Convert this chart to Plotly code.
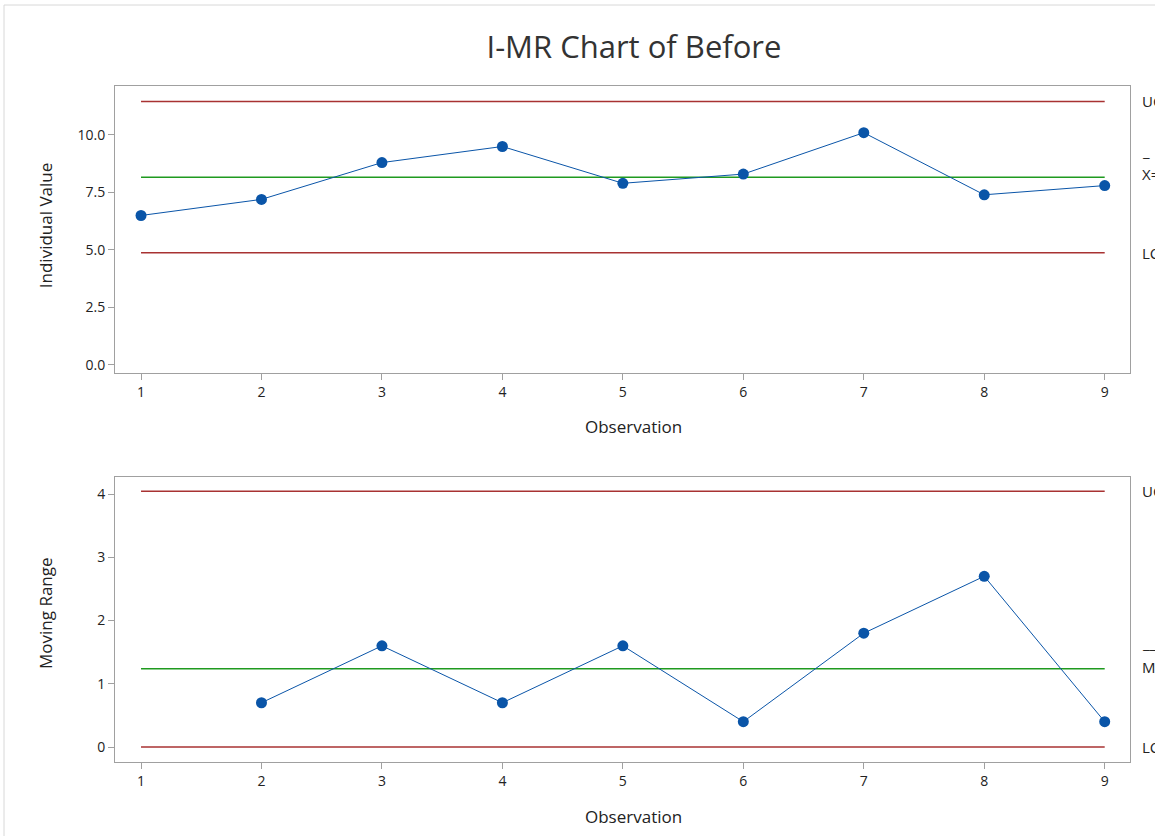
import plotly.graph_objects as go

obs = [1, 2, 3, 4, 5, 6, 7, 8, 9]
values = [6.5, 7.2, 8.8, 9.5, 7.9, 8.3, 10.1, 7.4, 7.8]
mr_obs = [2, 3, 4, 5, 6, 7, 8, 9]
mr_values = [0.7, 1.6, 0.7, 1.6, 0.4, 1.8, 2.7, 0.4]

xbar = sum(values) / len(values)
mrbar = sum(mr_values) / len(mr_values)
ucl_i = xbar + 2.66 * mrbar
lcl_i = xbar - 2.66 * mrbar
ucl_mr = 3.267 * mrbar
lcl_mr = 0.0

RED = "#a83232"
GREEN = "#1f9a1f"
BLUE = "#0a55a8"
FONT = "Open Sans"
TXT = "#222"

fig = go.Figure()

def hline(y, color, xa, ya):
    fig.add_trace(go.Scatter(x=[1, 9], y=[y, y], mode="lines",
                             line=dict(color=color, width=1.5),
                             xaxis=xa, yaxis=ya, hoverinfo="skip", showlegend=False))

hline(ucl_i, RED, "x", "y")
hline(xbar, GREEN, "x", "y")
hline(lcl_i, RED, "x", "y")
fig.add_trace(go.Scatter(x=obs, y=values, mode="lines+markers",
                         line=dict(color=BLUE, width=1),
                         marker=dict(color=BLUE, size=11),
                         xaxis="x", yaxis="y", showlegend=False))

hline(ucl_mr, RED, "x2", "y2")
hline(mrbar, GREEN, "x2", "y2")
hline(lcl_mr, RED, "x2", "y2")
fig.add_trace(go.Scatter(x=mr_obs, y=mr_values, mode="lines+markers",
                         line=dict(color=BLUE, width=1),
                         marker=dict(color=BLUE, size=11),
                         xaxis="x2", yaxis="y2", showlegend=False))

axis_common = dict(showline=True, linecolor="#a0a0a0", linewidth=1, mirror=True,
                   showgrid=False, zeroline=False, ticks="outside", ticklen=6,
                   tickcolor="#a0a0a0", tickfont=dict(size=14, color=TXT, family=FONT))

fig.update_layout(
    width=1155, height=836,
    margin=dict(l=115, r=25, t=86, b=74),
    paper_bgcolor="white", plot_bgcolor="white",
    font=dict(family=FONT, color=TXT),
    title=dict(text="I-MR Chart of Before", x=0.5113, xref="paper", xanchor="center",
               y=0.9438, yanchor="middle",
               font=dict(size=31, color="#333", family=FONT, weight=500)),
    xaxis=dict(domain=[0, 1], range=[0.784, 9.21], tickvals=obs, anchor="y", **axis_common),
    yaxis=dict(domain=[0.5754, 1], range=[-0.35, 12.13], tickvals=[0, 2.5, 5, 7.5, 10],
               tickformat=".1f", anchor="x", **axis_common),
    xaxis2=dict(domain=[0, 1], range=[0.784, 9.21], tickvals=obs, anchor="y2", **axis_common),
    yaxis2=dict(domain=[0, 0.4216], range=[-0.237, 4.27], tickvals=[0, 1, 2, 3, 4],
                anchor="x2", **axis_common),
)

tfont = dict(size=17, color=TXT, family=FONT)
fig.add_annotation(xref="paper", yref="paper", x=0.5113, y=0.497, text="Observation",
                   showarrow=False, xanchor="center", yanchor="middle", font=tfont)
fig.add_annotation(xref="paper", yref="paper", x=0.5113, y=-0.0799, text="Observation",
                   showarrow=False, xanchor="center", yanchor="middle", font=tfont)
fig.add_annotation(xref="paper", yref="paper", x=-0.069, y=0.794, text="Individual Value",
                   showarrow=False, xanchor="center", yanchor="middle", textangle=-90, font=tfont)
fig.add_annotation(xref="paper", yref="paper", x=-0.069, y=0.2204, text="Moving Range",
                   showarrow=False, xanchor="center", yanchor="middle", textangle=-90, font=tfont)

lab = dict(xref="paper", x=1.0099, xanchor="left", showarrow=False,
           font=dict(size=15, color=TXT, family=FONT))
fig.add_annotation(yref="y", y=ucl_i, text=f"UCL={ucl_i:.2f}", yanchor="middle", **lab)
fig.add_annotation(yref="y", y=xbar, text=f"X={xbar:.3f}", yanchor="top", yshift=15, **lab)
fig.add_annotation(yref="y", y=xbar, text="_", yanchor="bottom", yshift=14, **lab)
fig.add_annotation(yref="y", y=lcl_i, text=f"LCL={lcl_i:.2f}", yanchor="middle", **lab)
fig.add_annotation(yref="y2", y=ucl_mr, text=f"UCL={ucl_mr:.2f}", yanchor="middle", **lab)
fig.add_annotation(yref="y2", y=mrbar, text=f"MR={mrbar:.3f}", yanchor="top", yshift=14, **lab)
fig.add_annotation(yref="y2", y=mrbar, text="__", yanchor="bottom", yshift=14, **lab)
fig.add_annotation(yref="y2", y=lcl_mr, text=f"LCL={lcl_mr:.0f}", yanchor="middle", **lab)

# light outer frame of the chart window (top/left edges visible)
fig.add_shape(type="rect", xref="paper", yref="paper",
              x0=(4 - 115) / 1015, y0=-0.2, x1=1.2, y1=(762 - 5) / 676,
              line=dict(color="#d8d8d8", width=1), layer="below")

fig.write_html("out.html", config={"displayModeBar": False},
               post_script="document.body.style.margin='0';document.body.style.overflow='hidden';")
